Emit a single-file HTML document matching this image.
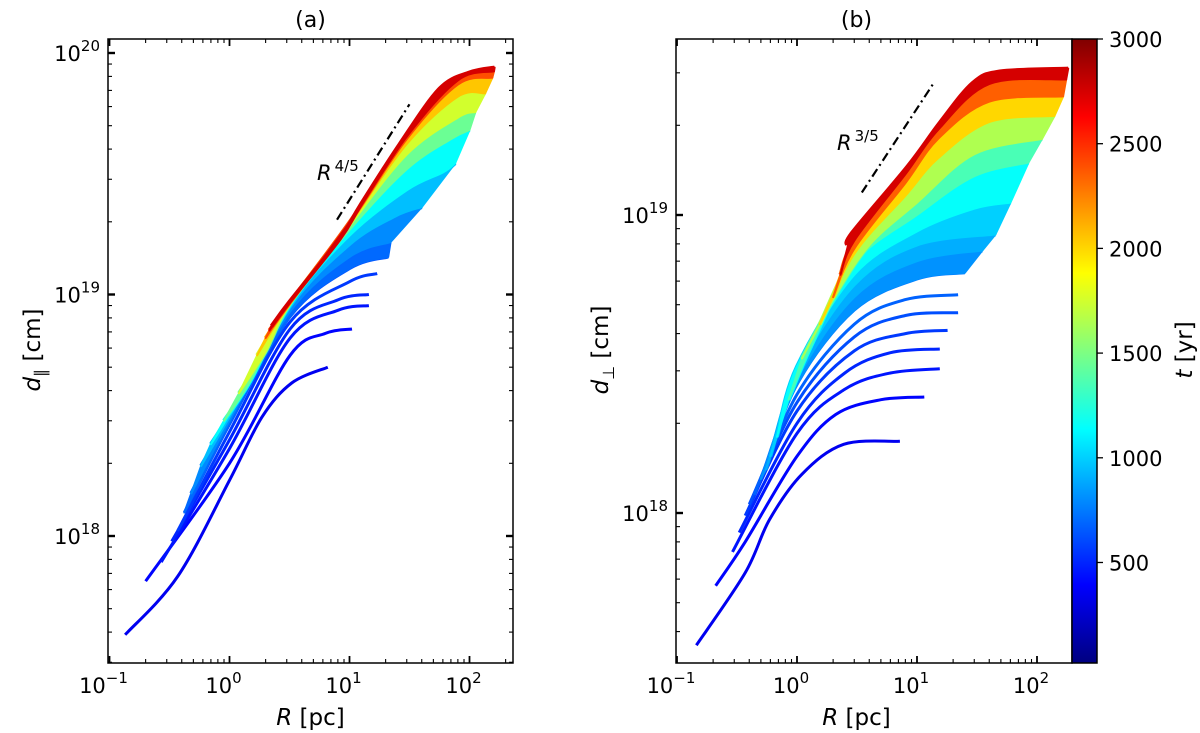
<!DOCTYPE html>
<html><head><meta charset="utf-8"><style>
html,body{margin:0;padding:0;background:#fff}
svg{display:block;font-family:"DejaVu Sans","Liberation Sans",sans-serif}
</style></head><body>
<svg id="fig" width="1200" height="733" viewBox="0 0 1200 733" xmlns="http://www.w3.org/2000/svg">
<defs>
<linearGradient id="jetGrad" x1="0" y1="1" x2="0" y2="0"></linearGradient>
</defs>
<g id="panelA"></g>
<g id="panelB"></g>
<g id="cbar"></g>
</svg>
<script>
// ---------- data ----------
const tValuesA = [350,400,450,500,560,620,700,800,950,1150,1450,1750,2050,2400,2750];
const curvesA = [
 [[.135,.39],[.37,.68],[1,1.7],[1.86,3.1],[3.3,4.3],[6.6,5.0]],
 [[.2,.65],[1,2.0],[3.2,5.6],[6.3,6.9],[10.5,7.2]],
 [[.27,.78],[1,2.3],[3.2,6.6],[8,8.6],[14.5,9.0]],
 [[.33,.95],[1,2.5],[3.2,7.2],[8,9.5],[14.5,10.0]],
 [[.37,1.05],[1,2.7],[3.2,7.7],[10,11.3],[17,12.2]],
 [[.42,1.25],[1,2.9],[3.2,8.1],[10,12.8],[21,14.3]],
 [[.48,1.5],[1,3.0],[3.2,8.5],[10,14.3],[22,16.5]],
 [[.58,1.95],[1,3.1],[3.2,8.8],[10,16],[24,21],[40,23]],
 [[.7,2.4],[1,3.2],[3.2,9.0],[10,17.5],[30,27],[60,32],[76,35]],
 [[.9,3.0],[1.5,4.4],[3.2,9.1],[10,18.5],[30,33],[70,44],[100,48]],
 [[1.2,3.9],[2,5.8],[3.2,9.2],[10,19.2],[30,38],[80,54],[112,57]],
 [[1.7,5.6],[3.2,9.25],[10,19.6],[30,42],[80,66],[135,68]],
 [[2.0,6.6],[3.2,9.3],[10,19.8],[30,44],[80,74],[155,79]],
 [[2.15,7.1],[3.2,9.3],[10,19.9],[30,45],[80,77],[160,84]],
 [[2.24,7.4],[3.2,9.4],[8.3,17],[12.3,23.4],[26,41.7],[56,71],[100,83],[162,87]]
];
const tValuesB = [350,400,450,500,560,620,680,750,820,900,1000,1150,1350,1650,2000,2350,2750];
const curvesB = [
 [[.145,.36],[.37,.63],[.59,.95],[1.1,1.35],[2.45,1.7],[7.2,1.74]],
 [[.21,.57],[.37,.8],[1,1.55],[2.1,2.14],[5,2.4],[11.5,2.45]],
 [[.29,.74],[1,1.85],[2.5,2.6],[6,2.95],[15.5,3.05]],
 [[.33,.86],[1,2.0],[2.5,2.95],[6,3.45],[15.5,3.55]],
 [[.37,.98],[1,2.2],[3,3.5],[8,4.0],[18,4.1]],
 [[.4,1.07],[1,2.35],[3,3.9],[8,4.6],[22,4.7]],
 [[.44,1.15],[1,2.5],[3,4.3],[8,5.2],[22,5.4]],
 [[.5,1.3],[1,2.7],[3,4.8],[10,6.1],[25,6.4]],
 [[.55,1.4],[1,2.8],[3,5.3],[10,7.0],[35,7.6]],
 [[.6,1.55],[1,2.95],[3,5.8],[10,7.9],[45,8.6]],
 [[.68,1.8],[1,3.1],[3,6.3],[10,8.8],[30,10.5],[60,11]],
 [[.85,2.4],[1.3,3.6],[3,6.9],[10,10],[30,13.5],[85,15]],
 [[1.1,3.3],[2,5.2],[4,7.9],[10,11],[30,16],[110,18]],
 [[1.55,4.3],[3,7.4],[8,11.6],[15,15.5],[40,20.5],[140,21.5]],
 [[2.0,5.3],[3,7.7],[8,12.8],[15,18],[40,24],[165,25]],
 [[2.3,6.3],[3,8.2],[8,13.7],[15,19.3],[40,27.5],[175,28.5]],
 [[2.66,7.9],[2.87,8.7],[8.4,14.6],[15.5,20.4],[29,27.7],[49,30.3],[182,31]]
];
const xTickLabels = ["−1","0","1","2"];
const cbarTicks = [500,1000,1500,2000,2500,3000];
const slopeA = [[7.87,20.4],[31.6,61.3]];
const slopeB = [[3.47,11.9],[13.6,27.5]];

// ---------- helpers ----------
const NS="http://www.w3.org/2000/svg";
function mk(tag,attrs,parent){const e=document.createElementNS(NS,tag);for(const k in attrs)e.setAttribute(k,attrs[k]);parent.appendChild(e);return e;}
function jet(v){
  const c=x=>Math.max(0,Math.min(1,x));
  const r=c(Math.min(4*v-1.5,-4*v+4.5)), g=c(Math.min(4*v-0.5,-4*v+3.5)), b=c(Math.min(4*v+0.5,-4*v+2.5));
  return `rgb(${Math.round(r*255)},${Math.round(g*255)},${Math.round(b*255)})`;
}
const tMin=20,tMax=3000;
function tColor(t){return jet((t-tMin)/(tMax-tMin));}
(function(){const lg=document.getElementById("jetGrad");for(let i=0;i<=40;i++){mk("stop",{offset:i/40,"stop-color":jet(i/40)},lg);}})();

// smooth path segment through pixel points (Catmull-Rom -> cubic), without leading M
function smoothSeg(p){
  let s="";
  for(let i=0;i<p.length-1;i++){
    const p0=p[i-1]||p[i],p1=p[i],p2=p[i+1],p3=p[i+2]||p[i+1];
    const c1=[p1[0]+(p2[0]-p0[0])/6,p1[1]+(p2[1]-p0[1])/6];
    const c2=[p2[0]-(p3[0]-p1[0])/6,p2[1]-(p3[1]-p1[1])/6];
    s+=` C${c1[0].toFixed(1)},${c1[1].toFixed(1)} ${c2[0].toFixed(1)},${c2[1].toFixed(1)} ${p2[0].toFixed(1)},${p2[1].toFixed(1)}`;
  }
  return s;
}

function panel(g,cfg,tVals,curves,fillFrom,slope,slopeLbl){
  const X=R=>cfg.x0+(Math.log10(R)-cfg.lx0)*cfg.dx;
  const Y=d=>cfg.y0+(cfg.ly0-(Math.log10(d)+18))*cfg.dy;
  const px=c=>c.map(p=>[X(p[0]),Y(p[1])]);
  const clip=mk("clipPath",{id:cfg.id+"clip"},g);
  mk("rect",{x:cfg.L,y:cfg.T,width:cfg.R-cfg.L,height:cfg.B-cfg.T},clip);
  const dg=mk("g",{"clip-path":`url(#${cfg.id}clip)`},g);
  
  
  for(let i=0;i<curves.length;i++){
    const col=tColor(tVals[i]);
    const cur=px(curves[i]);
    if(i>=fillFrom){
      const prev=px(curves[i-1]);
      const rev=cur.slice().reverse();
      const d=`M${prev[0][0]},${prev[0][1]}`+smoothSeg(prev)+` L${rev[0][0]},${rev[0][1]}`+smoothSeg(rev)+" Z";
      const poly=mk("path",{d:d,fill:col,stroke:col,"stroke-width":2,"stroke-linejoin":"round"},dg);
      
      
    }
    const pl=mk("path",{d:`M${cur[0][0]},${cur[0][1]}`+smoothSeg(cur),fill:"none",stroke:col,"stroke-width":i>=fillFrom?4:3,"stroke-linejoin":"round"},dg);
    
    
  }
  const sl=mk("line",{x1:X(slope[0][0]),y1:Y(slope[0][1]),x2:X(slope[1][0]),y2:Y(slope[1][1]),stroke:"#000","stroke-width":2.2,"stroke-dasharray":"9,4,2,4"},g);
  
  
  const st=mk("text",{x:cfg.sx,y:cfg.sy,"font-size":21,"font-style":"italic"},g);
  
  
  st.innerHTML=`R<tspan dx="3" dy="-9" font-size="15" font-style="normal">${slopeLbl}</tspan>`;
  const fr=mk("rect",{x:cfg.L,y:cfg.T,width:cfg.R-cfg.L,height:cfg.B-cfg.T,fill:"none",stroke:"#000","stroke-width":1.5},g);
  
  
  const tg=mk("g",{stroke:"#000"},g);
  
  
  for(let e=-2;e<=3;e++)for(let m=1;m<10;m++){
    const R=m*Math.pow(10,e), x=X(R); if(x<cfg.L-0.5||x>cfg.R+0.5)continue;
    const len=m==1?7:4,w=m==1?1.8:1.1;
    mk("line",{x1:x,y1:cfg.B,x2:x,y2:cfg.B-len,"stroke-width":w},tg);
    mk("line",{x1:x,y1:cfg.T,x2:x,y2:cfg.T+len,"stroke-width":w},tg);
  }
  for(let e=-2;e<=3;e++)for(let m=1;m<10;m++){
    const d=m*Math.pow(10,e), y=Y(d); if(y<cfg.T-0.5||y>cfg.B+0.5)continue;
    const len=m==1?7:4,w=m==1?2.4:1.1;
    mk("line",{x1:cfg.L,y1:y,x2:cfg.L+len,y2:y,"stroke-width":w},tg);
    if(!cfg.noRight)mk("line",{x1:cfg.R,y1:y,x2:cfg.R-len,y2:y,"stroke-width":w},tg);
    if(m==1){
      const lt=mk("text",{x:cfg.L-8,y:y+8,"text-anchor":"end","font-size":21,stroke:"none"},g);
      
      
      lt.innerHTML=`10<tspan dy="-10" font-size="15">${e+18}</tspan>`;
    }
  }
  xTickLabels.forEach((s,i)=>{
    const x=X(Math.pow(10,i-1));
    const lt=mk("text",{x:x-6,y:cfg.B+30,"text-anchor":"middle","font-size":21},g);
    
    
    lt.innerHTML=`10<tspan dy="-10" font-size="15">${s}</tspan>`;
  });
  const xl=mk("text",{x:(cfg.L+cfg.Rp)/2,y:725,"text-anchor":"middle","font-size":23},g);
  
  
  xl.innerHTML=`<tspan font-style="italic">R</tspan> [pc]`;
  const yl=mk("text",{x:0,y:0,"text-anchor":"middle","font-size":23,transform:`translate(${cfg.ylx},350) rotate(-90)`},g);
  
  
  yl.innerHTML=`<tspan font-style="italic">d</tspan><tspan dy="6" font-size="16">${cfg.sub}</tspan><tspan dy="-6"> [cm]</tspan>`;
  const ti=mk("text",{x:(cfg.L+cfg.Rp)/2,y:27,"text-anchor":"middle","font-size":22},g);
  
  
  ti.textContent=cfg.title;
}
panel(document.getElementById("panelA"),
 {id:"a",L:108,R:513,Rp:513,T:39,B:663,x0:109.5,lx0:-1,dx:120,y0:53,ly0:20,dy:241.5,sx:317,sy:180,ylx:40,sub:"∥",title:"(a)"},
 tValuesA,curvesA,6,slopeA,"4/5");
panel(document.getElementById("panelB"),
 {id:"b",L:676,R:1072,Rp:1037,T:39,B:663,x0:677,lx0:-1,dx:120,y0:215,ly0:19,dy:298,sx:837,sy:150,ylx:608,sub:"⊥",title:"(b)",noRight:true},
 tValuesB,curvesB,8,slopeB,"3/5");

(function(){
  const g=document.getElementById("cbar");
  const cx=1072,cw=25,cT=39,cB=663;
  const r=mk("rect",{x:cx,y:cT,width:cw,height:cB-cT,fill:"url(#jetGrad)",stroke:"#000","stroke-width":1.5},g);
  
  
  const Yc=t=>cB-(t-tMin)/(tMax-tMin)*(cB-cT);
  cbarTicks.forEach(t=>{
    const y=Yc(t);
    mk("line",{x1:cx+cw,y1:y,x2:cx+cw+6,y2:y,stroke:"#000","stroke-width":1.3},g);
    const tx=mk("text",{x:cx+cw+12,y:y+8,"font-size":21},g);
    
    
    tx.textContent=t;
  });
  const lb=mk("text",{x:0,y:0,"text-anchor":"middle","font-size":23,transform:"translate(1192,350) rotate(-90)"},g);
  
  
  lb.innerHTML=`<tspan font-style="italic">t</tspan> [yr]`;
})();
</script>
</body></html>
